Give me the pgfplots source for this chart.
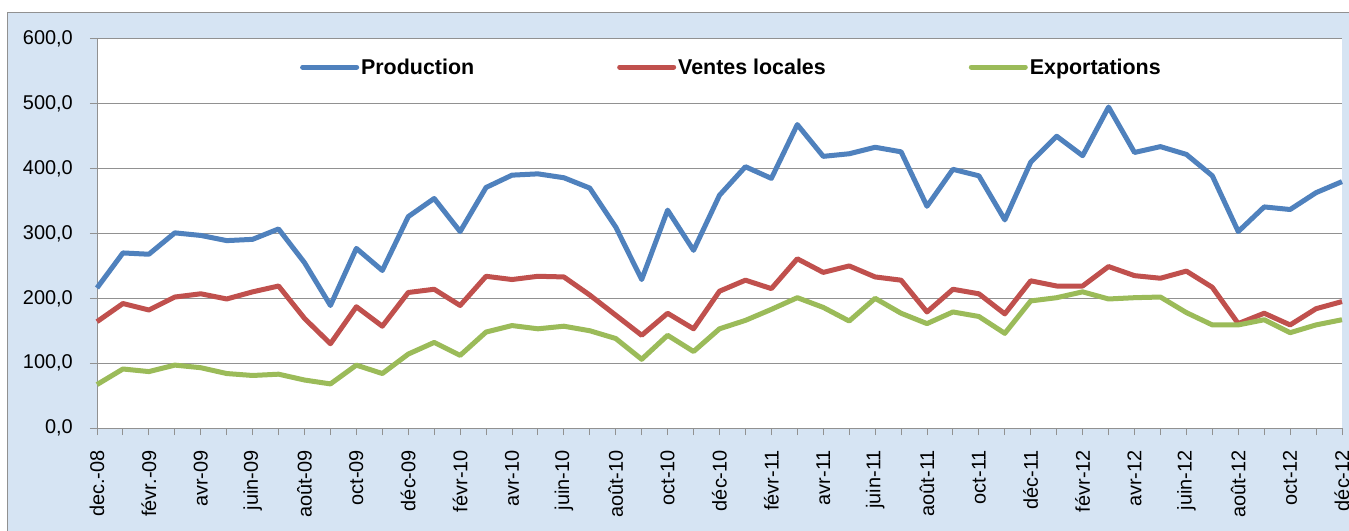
\documentclass[border=0pt]{standalone}
\usepackage{pgfplots}
\pgfplotsset{compat=1.18}
\usepackage{pgfplotstable}
\usepackage{fontspec}
\setmainfont{Liberation Sans}
\definecolor{cP}{RGB}{79,129,189}
\definecolor{cV}{RGB}{192,80,77}
\definecolor{cE}{RGB}{155,187,89}
\definecolor{bgblue}{RGB}{214,228,243}
\definecolor{gridgray}{RGB}{145,145,145}
\pgfplotstableread{
i P V E
0 216 164 67
1 270 192 91
2 268 182 87
3 301 202 97
4 297 207 93
5 289 199 84
6 291 210 81
7 307 219 83
8 255 169 74
9 189 130 68
10 277 187 97
11 243 157 84
12 326 209 114
13 354 214 132
14 303 189 112
15 371 234 148
16 390 229 158
17 392 234 153
18 386 233 157
19 370 205 150
20 310 174 138
21 229 143 106
22 336 177 143
23 274 153 118
24 359 211 153
25 403 228 166
26 385 215 183
27 468 261 201
28 419 240 186
29 423 250 165
30 433 233 200
31 426 228 177
32 342 179 161
33 399 214 179
34 389 207 172
35 321 176 146
36 410 227 196
37 450 219 201
38 420 219 210
39 495 249 199
40 425 235 201
41 434 231 202
42 422 242 178
43 389 217 159
44 303 161 159
45 341 177 167
46 337 159 147
47 363 184 159
48 380 195 167
}\data
\begin{document}
\begin{tikzpicture}
\useasboundingbox (0,0) rectangle (1349bp,531bp);
\fill[bgblue] (7.5bp,0) rectangle (1349bp,518.5bp);
\draw[gridgray, line width=1bp] (7.5bp,0) -- (7.5bp,518.5bp) -- (1349bp,518.5bp);
\begin{axis}[
  at={(97bp,103bp)}, anchor=south west,
  scale only axis, width=1245bp, height=389bp,
  xmin=0, xmax=48, ymin=0, ymax=600,
  axis background/.style={fill=white},
  axis lines*=left,
  axis line style={gridgray, line width=1bp},
  clip=false,
  ytick={0,100,...,600},
  yticklabels={{0,0},{100,0},{200,0},{300,0},{400,0},{500,0},{600,0}},
  ymajorgrids, grid style={gridgray, line width=1bp},
  xtick={0,2,...,48},
  minor xtick={1,3,...,47},
  xticklabels={dec.-08,févr.-09,avr-09,juin-09,août-09,oct-09,déc-09,févr-10,avr-10,juin-10,août-10,oct-10,déc-10,févr-11,avr-11,juin-11,août-11,oct-11,déc-11,févr-12,avr-12,juin-12,août-12,oct-12,déc-12},
  x tick label style={rotate=90, anchor=east, font=\fontsize{20}{23}\selectfont, inner sep=0pt},
  y tick label style={font=\fontsize{20}{23}\selectfont, inner sep=0pt, xshift=-17bp},
  tick align=outside,
  major tick length=7bp, minor tick length=7bp,
  tick style={gridgray, line width=1bp},
  xticklabel shift=15bp,
  legend columns=3,
  legend style={draw=none, fill=none, at={(0.163,0.928)}, anchor=west,
    inner sep=0pt, nodes={inner sep=2bp},
    font=\fontsize{21.5}{24}\selectfont\bfseries,
    /tikz/every even column/.append style={column sep=141bp}},
  legend image code/.code={\draw[#1, line cap=round] (0,0) -- (54bp,0);},
  every axis plot/.append style={line width=5bp, line join=round},
]
\addplot[cP] table[x=i,y=P]{\data};
\addlegendentry{Production}
\addplot[cV] table[x=i,y=V]{\data};
\addlegendentry{Ventes locales}
\addplot[cE] table[x=i,y=E]{\data};
\addlegendentry{Exportations}
\end{axis}
\end{tikzpicture}
\end{document}
